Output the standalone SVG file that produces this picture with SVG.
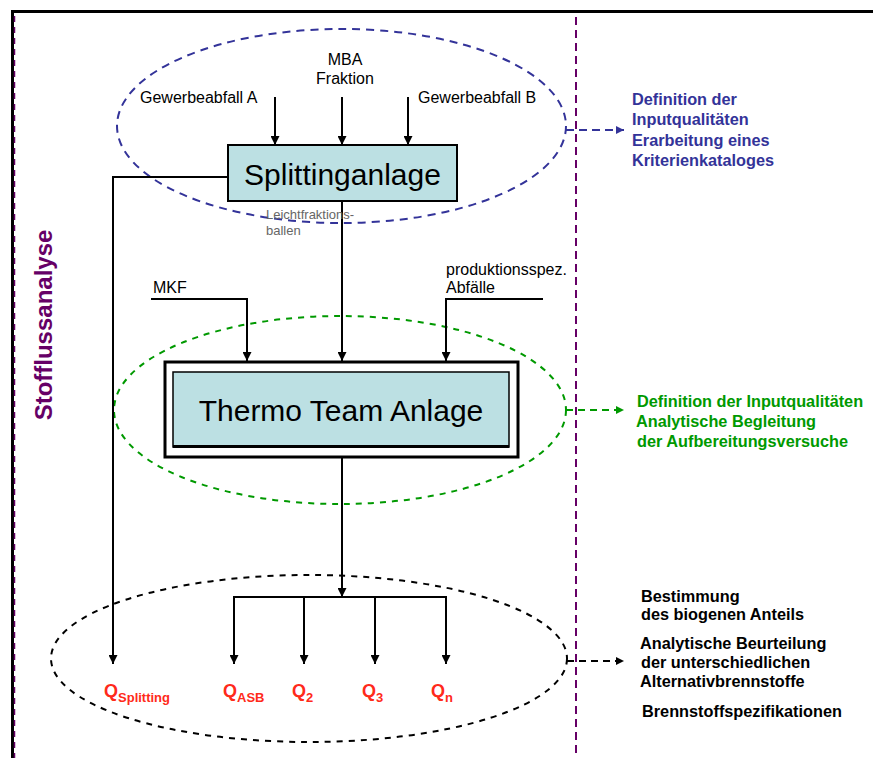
<svg xmlns="http://www.w3.org/2000/svg" width="873" height="758" viewBox="0 0 873 758">
<defs>
<style>
.lbl{font-family:"Liberation Sans",Arial,sans-serif;font-size:16px;fill:#000}
.big{font-family:"Liberation Sans",Arial,sans-serif;font-size:30px;fill:#000;text-anchor:middle}
.bt{font-family:"Liberation Sans",Arial,sans-serif;font-size:16.3px;font-weight:bold}
.q{font-family:"Liberation Sans",Arial,sans-serif;font-weight:bold;fill:#FF2A1A;font-size:18px}
.sub{font-size:13px}
.ln{fill:none;stroke:#000;stroke-width:2}
.arr{marker-end:url(#ah)}
.box{fill:#BCE0E3;stroke:#000}
</style>
<marker id="ah" viewBox="0 0 10 10" refX="10" refY="5" markerWidth="9" markerHeight="9" markerUnits="userSpaceOnUse" orient="auto"><path d="M0,0L10,5L0,10z" fill="#000"/></marker>
<marker id="ahb" viewBox="0 0 10 10" refX="10" refY="5" markerWidth="9" markerHeight="8" markerUnits="userSpaceOnUse" orient="auto"><path d="M0,0L10,5L0,10z" fill="#333399"/></marker>
<marker id="ahg" viewBox="0 0 10 10" refX="10" refY="5" markerWidth="9" markerHeight="8" markerUnits="userSpaceOnUse" orient="auto"><path d="M0,0L10,5L0,10z" fill="#009900"/></marker>
<marker id="ahk" viewBox="0 0 10 10" refX="10" refY="5" markerWidth="9" markerHeight="8" markerUnits="userSpaceOnUse" orient="auto"><path d="M0,0L10,5L0,10z" fill="#000"/></marker>
</defs>
<rect width="873" height="758" fill="#fff"/>

<g id="frame">
<line x1="11" y1="11.5" x2="873" y2="11.5" stroke="#000" stroke-width="3"/>
<line x1="12.5" y1="10" x2="12.5" y2="758" stroke="#000" stroke-width="3"/>
<line x1="14.5" y1="16" x2="14.5" y2="758" stroke="#660066" stroke-width="1.5" stroke-dasharray="6,5"/>
<line x1="576" y1="17" x2="576" y2="758" stroke="#660066" stroke-width="2" stroke-dasharray="8,5"/>
<text transform="translate(52,325) rotate(-90)" text-anchor="middle" font-family="Liberation Sans,Arial,sans-serif" font-size="24" font-weight="bold" fill="#660066">Stofflussanalyse</text>
</g>

<g id="ellipses">
<ellipse cx="341.5" cy="126" rx="224.5" ry="97" fill="none" stroke="#333399" stroke-width="2" stroke-dasharray="8,6"/>
<ellipse cx="340" cy="410" rx="226" ry="94" fill="none" stroke="#009900" stroke-width="2" stroke-dasharray="6,6"/>
<ellipse cx="309" cy="658.5" rx="258" ry="83.5" fill="none" stroke="#000" stroke-width="2" stroke-dasharray="6,6"/>
</g>

<g id="connectors">
<line class="ln arr" x1="275" y1="97" x2="275" y2="145"/>
<line class="ln arr" x1="342" y1="97" x2="342" y2="145"/>
<line class="ln arr" x1="408" y1="97" x2="408" y2="145"/>
<polyline class="ln arr" points="228,177 113,177 113,664"/>
<line class="ln arr" x1="342" y1="201" x2="342" y2="361"/>
<polyline class="ln arr" points="151,299 247,299 247,361"/>
<polyline class="ln arr" points="543,299 446,299 446,361"/>
<line class="ln arr" x1="342" y1="457" x2="342" y2="597"/>
<line class="ln" x1="233" y1="597" x2="447" y2="597" stroke-width="2.5"/>
<line class="ln arr" x1="234" y1="597" x2="234" y2="664"/>
<line class="ln arr" x1="304" y1="597" x2="304" y2="664"/>
<line class="ln arr" x1="375" y1="597" x2="375" y2="664"/>
<line class="ln arr" x1="446" y1="597" x2="446" y2="664"/>
<line x1="566" y1="130" x2="624" y2="130" stroke="#333399" stroke-width="2" stroke-dasharray="8,5" marker-end="url(#ahb)"/>
<line x1="566" y1="410" x2="624" y2="410" stroke="#009900" stroke-width="2" stroke-dasharray="7,5" marker-end="url(#ahg)"/>
<line x1="567" y1="661" x2="624" y2="661" stroke="#000" stroke-width="2" stroke-dasharray="7,5" marker-end="url(#ahk)"/>
</g>

<g id="splitting">
<rect class="box" x="228" y="145" width="229" height="56" stroke-width="2"/>
<text class="big" x="342.5" y="185">Splittinganlage</text>
</g>

<g id="thermo">
<rect x="165" y="362" width="353" height="95" fill="#fff" stroke="#000" stroke-width="3"/>
<rect class="box" x="173" y="372" width="336" height="75" stroke-width="1.5"/>
<line x1="173" y1="446.5" x2="509" y2="446.5" stroke="#000" stroke-width="3"/>
<text class="big" x="341" y="421">Thermo Team Anlage</text>
</g>

<g id="inputs">
<text class="lbl" x="140" y="103">Gewerbeabfall A</text>
<text class="lbl" x="345" y="65" text-anchor="middle">MBA</text>
<text class="lbl" x="345" y="84" text-anchor="middle">Fraktion</text>
<text class="lbl" x="418" y="103">Gewerbeabfall B</text>
<text font-family="Liberation Sans,Arial,sans-serif" font-size="13" fill="#666" x="266" y="219">Leichtfraktions-</text>
<text font-family="Liberation Sans,Arial,sans-serif" font-size="13" fill="#666" x="266" y="235">ballen</text>
<text class="lbl" x="153" y="293">MKF</text>
<text class="lbl" x="446" y="275">produktionsspez.</text>
<text class="lbl" x="446" y="293">Abfälle</text>
</g>

<g id="outputs">
<text class="q" x="104" y="697">Q<tspan class="sub" dy="5">Splitting</tspan></text>
<text class="q" x="223" y="697">Q<tspan class="sub" dy="5">ASB</tspan></text>
<text class="q" x="292" y="697">Q<tspan class="sub" dy="5">2</tspan></text>
<text class="q" x="362" y="697">Q<tspan class="sub" dy="5">3</tspan></text>
<text class="q" x="431" y="697">Q<tspan class="sub" dy="5">n</tspan></text>
</g>

<g id="notes-blue" fill="#333399">
<text class="bt" x="632" y="105">Definition der</text>
<text class="bt" x="632" y="125">Inputqualitäten</text>
<text class="bt" x="632" y="146">Erarbeitung eines</text>
<text class="bt" x="632" y="166">Kriterienkataloges</text>
</g>

<g id="notes-green" fill="#009900">
<text class="bt" x="637" y="407">Definition der Inputqualitäten</text>
<text class="bt" x="636" y="427">Analytische Begleitung</text>
<text class="bt" x="637" y="447">der Aufbereitungsversuche</text>
</g>

<g id="notes-black" fill="#000">
<text class="bt" x="641" y="602">Bestimmung</text>
<text class="bt" x="641" y="620">des biogenen Anteils</text>
<text class="bt" x="640" y="649">Analytische Beurteilung</text>
<text class="bt" x="641" y="668">der unterschiedlichen</text>
<text class="bt" x="640" y="687">Alternativbrennstoffe</text>
<text class="bt" x="642" y="717">Brennstoffspezifikationen</text>
</g>
</svg>
